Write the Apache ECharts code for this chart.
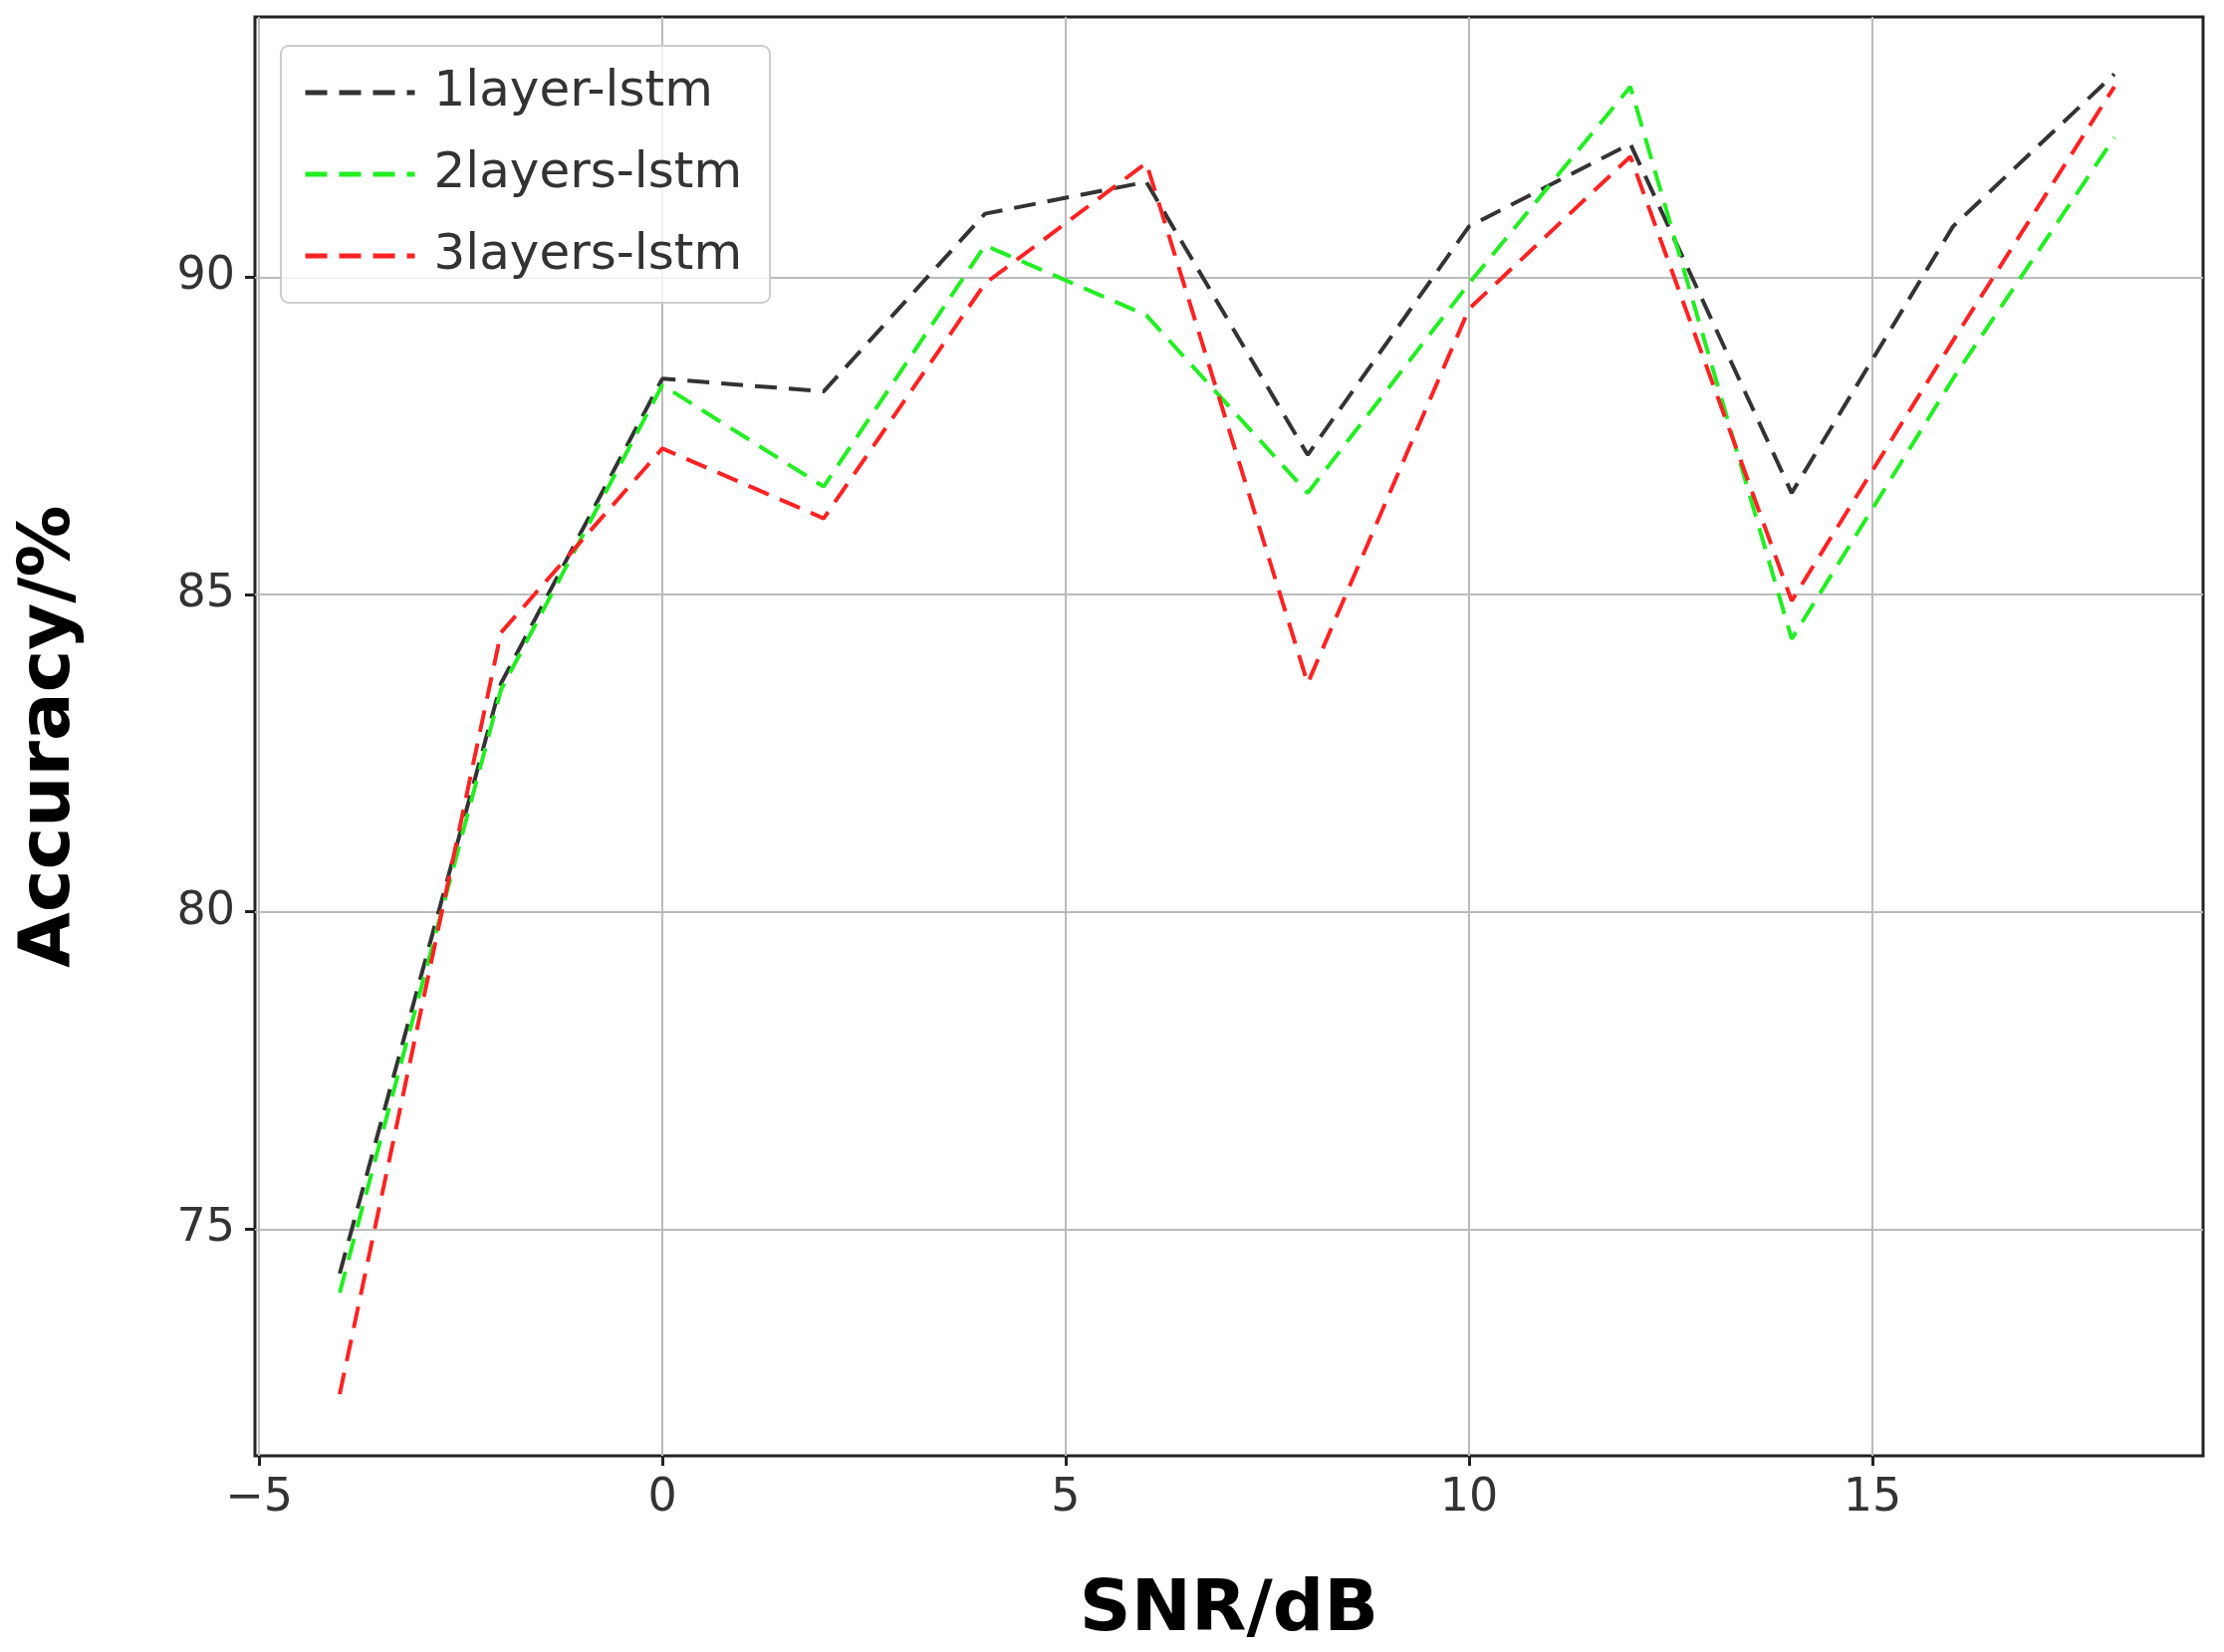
<!DOCTYPE html>
<html><head><meta charset="utf-8">
<script src="https://cdn.jsdelivr.net/npm/echarts@6/dist/echarts.min.js"></script>
<style>html,body{margin:0;padding:0;background:#fff}#c{width:2233px;height:1659px}</style>
</head><body><div id="c"></div>
<script>
const snr = [-4,-2,0,2,4,6,8,10,12,14,16,18];
const layer1 = [74.3,83.6,88.4,88.2,91.0,91.5,87.2,90.8,92.1,86.6,90.8,93.2];
const layer2 = [74.0,83.5,88.3,86.7,90.5,89.4,86.6,89.9,93.0,84.3,88.4,92.2];
const layer3 = [72.4,84.4,87.3,86.2,89.9,91.8,83.6,89.5,91.9,84.9,89.0,93.0];
const xTicks = [-5,0,5,10,15];
const yTicks = [75,80,85,90];
const names = ['1layer-lstm','2layers-lstm','3layers-lstm'];
const colors = ['#333333','#22ee22','#ff2222'];
const datas = [layer1,layer2,layer3];
const ch = echarts.init(document.getElementById('c'));
const tickFont = {fontFamily:'DejaVu Sans',fontSize:46,color:'#333'};
ch.setOption({
  animation:false,
  grid:{left:256,right:21,top:17,bottom:195,show:true,borderColor:'#222',borderWidth:3,containLabel:false},
  legend:{left:282,top:46,orient:'vertical',itemWidth:110,itemHeight:20,itemGap:32,
    padding:[22,28,22,22],borderColor:'#ccc',borderWidth:2,borderRadius:8,backgroundColor:'rgba(255,255,255,0.8)',
    itemStyle:{opacity:0},lineStyle:{width:5},
    textStyle:{fontFamily:'DejaVu Sans',fontSize:50,color:'#333',padding:[0,0,0,14]},data:names},
  xAxis:{type:'value',min:-5.05,max:19.1,name:'SNR/dB',nameLocation:'middle',nameGap:120,
    nameTextStyle:{fontFamily:'DejaVu Sans',fontSize:72,color:'#000',fontWeight:'bold'},
    axisLine:{show:false,onZero:false},
    axisTick:{show:true,customValues:xTicks,length:10,lineStyle:{color:'#222',width:3}},
    axisLabel:Object.assign({customValues:xTicks,margin:20,formatter:v=>v<0?'\u2212'+(-v):String(v)},tickFont),
    splitLine:{show:true,lineStyle:{color:'#bbb',width:2}}},
  yAxis:{type:'value',min:71.43,max:94.1,name:'Accuracy/%',nameLocation:'middle',nameGap:170,
    nameTextStyle:{fontFamily:'DejaVu Sans',fontSize:72,color:'#000',fontWeight:'bold'},
    axisLine:{show:false,onZero:false},
    axisTick:{show:true,customValues:yTicks,length:10,lineStyle:{color:'#222',width:3}},
    axisLabel:Object.assign({customValues:yTicks,margin:20},tickFont),
    splitLine:{show:true,lineStyle:{color:'#bbb',width:2}}},
  series:names.map((n,i)=>({name:n,type:'line',symbol:'none',showSymbol:false,color:colors[i],
    lineStyle:{type:[22,12],width:4,color:colors[i]},
    data:snr.map((x,j)=>[x,datas[i][j]])}))
});
</script></body></html>
